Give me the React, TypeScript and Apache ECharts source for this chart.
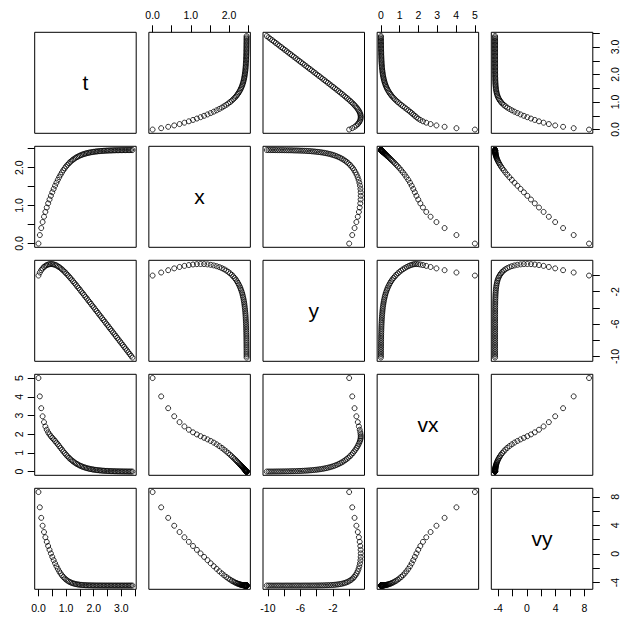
import React, { useEffect, useRef } from "react";
import * as echarts from "echarts";

// time (s)
const t = [0, 0.05, 0.1, 0.15, 0.2, 0.25, 0.3, 0.35, 0.4, 0.45, 0.5, 0.55, 0.6, 0.65, 0.7, 0.75, 0.8, 0.85, 0.9, 0.95, 1, 1.05, 1.1, 1.15, 1.2, 1.25, 1.3, 1.35, 1.4, 1.45, 1.5, 1.55, 1.6, 1.65, 1.7, 1.75, 1.8, 1.85, 1.9, 1.95, 2, 2.05, 2.1, 2.15, 2.2, 2.25, 2.3, 2.35, 2.4, 2.45, 2.5, 2.55, 2.6, 2.65, 2.7, 2.75, 2.8, 2.85, 2.9, 2.95, 3, 3.05, 3.1, 3.15, 3.2, 3.25, 3.3, 3.35, 3.4];
const x = [0, 0.224, 0.408, 0.566, 0.706, 0.833, 0.949, 1.058, 1.16, 1.257, 1.349, 1.438, 1.522, 1.601, 1.677, 1.747, 1.813, 1.874, 1.931, 1.983, 2.03, 2.073, 2.112, 2.148, 2.18, 2.209, 2.235, 2.259, 2.28, 2.299, 2.316, 2.332, 2.346, 2.358, 2.369, 2.379, 2.388, 2.396, 2.403, 2.409, 2.415, 2.42, 2.425, 2.429, 2.433, 2.436, 2.439, 2.441, 2.444, 2.446, 2.448, 2.45, 2.451, 2.452, 2.454, 2.455, 2.456, 2.457, 2.457, 2.458, 2.459, 2.459, 2.46, 2.46, 2.461, 2.461, 2.461, 2.462, 2.462];
const y = [0, 0.376, 0.664, 0.888, 1.062, 1.197, 1.298, 1.367, 1.409, 1.425, 1.417, 1.384, 1.33, 1.254, 1.159, 1.046, 0.917, 0.773, 0.618, 0.451, 0.276, 0.092, -0.098, -0.294, -0.494, -0.698, -0.905, -1.115, -1.327, -1.541, -1.756, -1.972, -2.189, -2.407, -2.626, -2.845, -3.065, -3.285, -3.505, -3.726, -3.946, -4.167, -4.388, -4.609, -4.83, -5.051, -5.273, -5.494, -5.715, -5.936, -6.158, -6.379, -6.601, -6.822, -7.043, -7.265, -7.486, -7.708, -7.929, -8.151, -8.372, -8.594, -8.815, -9.037, -9.258, -9.48, -9.701, -9.923, -10.144];
const vx = [5, 4.02, 3.389, 2.957, 2.645, 2.415, 2.239, 2.1, 1.988, 1.893, 1.807, 1.724, 1.64, 1.552, 1.46, 1.365, 1.27, 1.174, 1.081, 0.99, 0.904, 0.823, 0.747, 0.676, 0.611, 0.551, 0.496, 0.447, 0.402, 0.361, 0.324, 0.291, 0.261, 0.234, 0.21, 0.188, 0.168, 0.151, 0.135, 0.121, 0.108, 0.097, 0.087, 0.078, 0.07, 0.062, 0.056, 0.05, 0.045, 0.04, 0.036, 0.032, 0.029, 0.026, 0.023, 0.021, 0.018, 0.017, 0.015, 0.013, 0.012, 0.011, 0.01, 0.009, 0.008, 0.007, 0.006, 0.006, 0.005];
const vy = [8.66, 6.521, 5.046, 3.943, 3.063, 2.329, 1.687, 1.108, 0.572, 0.066, -0.416, -0.876, -1.311, -1.718, -2.092, -2.43, -2.733, -2.999, -3.23, -3.429, -3.598, -3.742, -3.862, -3.963, -4.046, -4.116, -4.173, -4.22, -4.258, -4.29, -4.316, -4.337, -4.354, -4.368, -4.38, -4.389, -4.397, -4.403, -4.408, -4.412, -4.415, -4.418, -4.42, -4.422, -4.423, -4.424, -4.425, -4.426, -4.427, -4.427, -4.428, -4.428, -4.428, -4.428, -4.429, -4.429, -4.429, -4.429, -4.429, -4.429, -4.429, -4.429, -4.429, -4.429, -4.429, -4.429, -4.429, -4.429, -4.429];

const varNames = ["t", "x", "y", "vx", "vy"];

// axis ticks and labelled ticks
const tTicks = [0, 0.5, 1, 1.5, 2, 2.5, 3, 3.5];
const tLabels = [0, 1, 2, 3];
const xTicks = [0, 0.5, 1, 1.5, 2, 2.5];
const xLabels = [0, 1, 2];
const yTicks = [-10, -8, -6, -4, -2, 0];
const yLabels = [-10, -6, -2];
const vxTicks = [0, 1, 2, 3, 4, 5];
const vxLabels = [0, 1, 2, 3, 4, 5];
const vyTicks = [-4, -2, 0, 2, 4, 6, 8];
const vyLabels = [-4, 0, 4, 8];

const values = [t, x, y, vx, vy];
const ticks = [tTicks, xTicks, yTicks, vxTicks, vyTicks];
const labels = [tLabels, xLabels, yLabels, vxLabels, vyLabels];
const decimals = [1, 1, 0, 0, 0];

// layout (pixels)
const L0 = 34.7, DX = 114.15, W = 101.5;
const T0 = 32.3, DY = 114, H = 101;
const FONT = "Liberation Sans, Arial, Helvetica, sans-serif";
const AXIS_FONT = 10.5;
const DIAG_FONT = 21;

function range(v: number[]) {
  const lo = Math.min(...v), hi = Math.max(...v);
  const pad = (hi - lo) * 0.04;
  return [lo - pad, hi + pad];
}

export default function App() {
  const ref = useRef<HTMLDivElement>(null);
  useEffect(() => {
    if (!ref.current) return;
    const chart = echarts.init(ref.current, null, { renderer: "svg" });
    const n = varNames.length;
    const grids: any[] = [];
    const xAxes: any[] = [];
    const yAxes: any[] = [];
    const series: any[] = [];
    const graphics: any[] = [];
    for (let i = 0; i < n; i++) {
      for (let j = 0; j < n; j++) {
        const idx = i * n + j;
        const left = L0 + j * DX;
        const top = T0 + i * DY;
        grids.push({
          left, top, width: W, height: H,
          show: true, borderColor: "#000", borderWidth: 1,
          backgroundColor: "transparent", containLabel: false,
        });
        const xr = range(values[j]);
        const yr = range(values[i]);
        const showTopX = i === 0 && j % 2 === 1;
        const showBottomX = i === n - 1 && j % 2 === 0;
        const showLeftY = j === 0 && i % 2 === 1;
        const showRightY = j === n - 1 && i % 2 === 0;
        const xd = decimals[j];
        const yd = decimals[i];
        xAxes.push({
          gridIndex: idx, type: "value", min: xr[0], max: xr[1],
          show: showTopX || showBottomX,
          position: showTopX ? "top" : "bottom",
          axisLine: { show: false, onZero: false, lineStyle: { color: "#000" } },
          splitLine: { show: false },
          axisTick: {
            show: true, inside: false, length: 7,
            lineStyle: { color: "#000", width: 1 },
            customValues: ticks[j],
          },
          axisLabel: {
            show: true, customValues: labels[j],
            formatter: (v: number) => v.toFixed(xd),
            color: "#000", fontSize: AXIS_FONT, fontFamily: FONT,
            margin: showTopX ? 12 : 13,
          },
        });
        yAxes.push({
          gridIndex: idx, type: "value", min: yr[0], max: yr[1],
          show: showLeftY || showRightY,
          position: showRightY ? "right" : "left",
          axisLine: { show: false, onZero: false, lineStyle: { color: "#000" } },
          splitLine: { show: false },
          axisTick: {
            show: true, inside: false, length: 7,
            lineStyle: { color: "#000", width: 1 },
            customValues: ticks[i],
          },
          axisLabel: {
            show: true, customValues: labels[i], rotate: 90,
            formatter: (v: number) => v.toFixed(yd),
            color: "#000", fontSize: AXIS_FONT, fontFamily: FONT,
            margin: showRightY ? 17 : 10,
          },
        });
        if (i === j) {
          graphics.push({
            type: "text",
            x: left + W / 2,
            y: top + H / 2,
            style: {
              text: varNames[i], fill: "#000",
              fontSize: DIAG_FONT, fontFamily: FONT,
              align: "center", verticalAlign: "middle",
            },
          });
        } else {
          const xs = values[j];
          const ys = values[i];
          series.push({
            type: "scatter",
            xAxisIndex: idx, yAxisIndex: idx,
            data: xs.map((v, k) => [v, ys[k]]),
            symbol: "circle", symbolSize: 5,
            itemStyle: { color: "rgba(0,0,0,0)", borderColor: "#000", borderWidth: 1 },
            silent: true,
          });
        }
      }
    }
    chart.setOption({
      animation: false,
      backgroundColor: "#fff",
      grid: grids,
      xAxis: xAxes,
      yAxis: yAxes,
      series,
      graphic: graphics,
    });
    return () => chart.dispose();
  }, []);
  return (
    <div
      ref={ref}
      style={{ position: "fixed", left: 0, top: 0, width: 638, height: 626, background: "#fff" }}
    />
  );
}
